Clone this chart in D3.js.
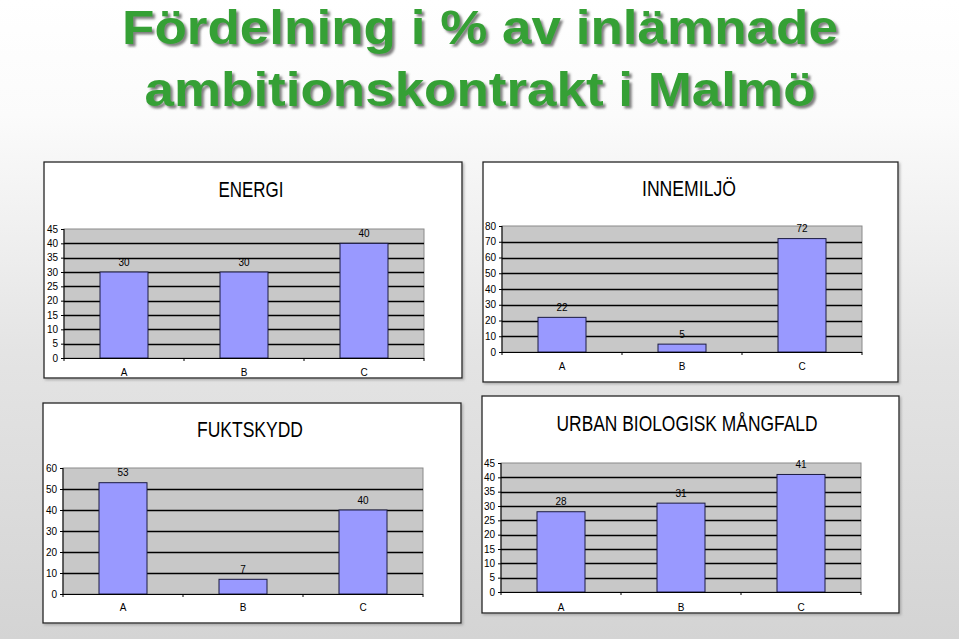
<!DOCTYPE html>
<html><head><meta charset="utf-8">
<script src="https://cdn.jsdelivr.net/npm/d3@7"></script>
<style>html,body{margin:0;padding:0;overflow:hidden;background:#fff;} svg{display:block;}</style>
</head><body>
<script>
// ---- data ----
const titleLines = ["Fördelning i % av inlämnade", "ambitionskontrakt i Malmö"];
const categories = ["A", "B", "C"];
const panelTitles = ["ENERGI", "INNEMILJÖ", "FUKTSKYDD", "URBAN BIOLOGISK MÅNGFALD"];
const energiValues = [30, 30, 40];
const innemiljoValues = [22, 5, 72];
const fuktskyddValues = [53, 7, 40];
const urbanValues = [28, 31, 41];
const energiTicks = [0, 5, 10, 15, 20, 25, 30, 35, 40, 45];
const innemiljoTicks = [0, 10, 20, 30, 40, 50, 60, 70, 80];
const fuktskyddTicks = [0, 10, 20, 30, 40, 50, 60];
const urbanTicks = [0, 5, 10, 15, 20, 25, 30, 35, 40, 45];

// ---- layout ----
const W = 959, H = 639;
const svg = d3.select("body").append("svg").attr("width", W).attr("height", H);
const defs = svg.append("defs");
const bg = defs.append("linearGradient").attr("id", "bg").attr("x1", 0).attr("y1", 0).attr("x2", 0).attr("y2", 1);
bg.append("stop").attr("offset", "0").attr("stop-color", "#ffffff");
bg.append("stop").attr("offset", "0.18").attr("stop-color", "#fbfbfb");
bg.append("stop").attr("offset", "0.55").attr("stop-color", "#e4e4e4");
bg.append("stop").attr("offset", "1").attr("stop-color", "#d4d4d4");
const ts = defs.append("filter").attr("id", "tshadow").attr("x", "-5%").attr("y", "-20%").attr("width", "110%").attr("height", "140%");
ts.append("feDropShadow").attr("dx", 2.5).attr("dy", 2.5).attr("stdDeviation", 1.2).attr("flood-color", "#555").attr("flood-opacity", 0.75);
const ps = defs.append("filter").attr("id", "pshadow").attr("x", "-5%").attr("y", "-5%").attr("width", "110%").attr("height", "110%");
ps.append("feDropShadow").attr("dx", 1.5).attr("dy", 1.5).attr("stdDeviation", 1.2).attr("flood-color", "#888").attr("flood-opacity", 0.6);

svg.append("rect").attr("width", W).attr("height", H).attr("fill", "url(#bg)");

// main title
const titleY = [43.5, 105.5], titleW = [716, 671];
titleLines.forEach((t, i) => {
  svg.append("text").attr("x", 480).attr("y", titleY[i]).attr("text-anchor", "middle")
    .attr("font-family", "'Liberation Sans', Arial, sans-serif").attr("font-weight", "bold")
    .attr("font-size", 48).attr("fill", "#36a036").attr("filter", "url(#tshadow)")
    .attr("textLength", titleW[i]).attr("lengthAdjust", "spacingAndGlyphs").text(t);
});

const panels = [
  {title: panelTitles[0], values: energiValues, ticks: energiTicks, box: [44, 162, 418, 216], plot: [64, 424, 229, 358], tx: 251, ty: 197, tw: 65, cy: 372},
  {title: panelTitles[1], values: innemiljoValues, ticks: innemiljoTicks, box: [483, 162, 415, 220], plot: [502, 862, 226, 352], tx: 689, ty: 196, tw: 94, cy: 366},
  {title: panelTitles[2], values: fuktskyddValues, ticks: fuktskyddTicks, box: [43, 403, 418, 220], plot: [63, 423, 468, 594], tx: 250, ty: 437, tw: 106, cy: 607},
  {title: panelTitles[3], values: urbanValues, ticks: urbanTicks, box: [482, 396, 417, 217], plot: [501, 861, 463, 592], tx: 687, ty: 431, tw: 261, cy: 607}
];

const smallFont = "'Liberation Sans Narrow', 'Arial Narrow', 'Liberation Sans', sans-serif";

panels.forEach(p => {
  const g = svg.append("g");
  const [bx, by, bw, bh] = p.box;
  g.append("rect").attr("x", bx).attr("y", by).attr("width", bw).attr("height", bh)
    .attr("fill", "#fff").attr("stroke", "#222").attr("stroke-width", 1.3).attr("filter", "url(#pshadow)");
  g.append("text").attr("x", p.tx).attr("y", p.ty).attr("text-anchor", "middle")
    .attr("font-family", smallFont).attr("font-size", 22).attr("fill", "#000")
    .attr("textLength", p.tw).attr("lengthAdjust", "spacingAndGlyphs").text(p.title);

  const [l, r, t, b] = p.plot;
  const x = d3.scaleBand().domain(categories).range([l, r]).paddingInner(0).paddingOuter(0);
  const y = d3.scaleLinear().domain([0, d3.max(p.ticks)]).range([b, t]);

  g.append("rect").attr("x", l).attr("y", t).attr("width", r - l).attr("height", b - t)
    .attr("fill", "#c8c8c8").attr("stroke", "#8a8a8a").attr("stroke-width", 1);

  // gridlines
  g.selectAll(".grid").data(p.ticks.filter(v => v > 0 && v < d3.max(p.ticks))).enter().append("line")
    .attr("x1", l).attr("x2", r).attr("y1", d => Math.round(y(d)) + 0.5).attr("y2", d => Math.round(y(d)) + 0.5)
    .attr("stroke", "#000").attr("stroke-width", 1.4);

  // bars
  const bw2 = x.bandwidth() * 0.4;
  g.selectAll(".bar").data(p.values).enter().append("rect")
    .attr("x", (d, i) => x(categories[i]) + (x.bandwidth() - bw2) / 2)
    .attr("y", d => y(d)).attr("width", bw2).attr("height", d => y(0) - y(d))
    .attr("fill", "#9999ff").attr("stroke", "#1a1a40").attr("stroke-width", 1);

  // value labels
  g.selectAll(".vl").data(p.values).enter().append("text")
    .attr("x", (d, i) => x(categories[i]) + x.bandwidth() / 2).attr("y", d => y(d) - 10)
    .attr("dy", "0.35em").attr("text-anchor", "middle")
    .attr("font-family", smallFont).attr("font-size", 10).attr("fill", "#000").text(d => d);

  // y axis
  const ya = g.append("g").attr("transform", `translate(${l},0)`)
    .call(d3.axisLeft(y).tickValues(p.ticks).tickSize(3).tickPadding(3).tickFormat(d3.format("d")));
  ya.select(".domain").attr("stroke", "#000").attr("d", `M0,${t}V${b}`);
  ya.selectAll(".tick line").attr("stroke", "#000");
  ya.selectAll(".tick text").attr("font-family", smallFont).attr("font-size", 10).attr("fill", "#000");

  // x axis
  g.append("line").attr("x1", l).attr("x2", r).attr("y1", b + 0.5).attr("y2", b + 0.5).attr("stroke", "#000");
  const bounds = categories.map(c => x(c)).concat([x(categories[categories.length - 1]) + x.bandwidth()]);
  g.selectAll(".xt").data(bounds).enter().append("line")
    .attr("x1", d => d).attr("x2", d => d).attr("y1", b).attr("y2", b + 3).attr("stroke", "#000");
  g.selectAll(".xl").data(categories).enter().append("text")
    .attr("x", d => x(d) + x.bandwidth() / 2).attr("y", p.cy).attr("dy", "0.35em").attr("text-anchor", "middle")
    .attr("font-family", smallFont).attr("font-size", 10).attr("fill", "#000").text(d => d);
});
</script>
</body></html>
